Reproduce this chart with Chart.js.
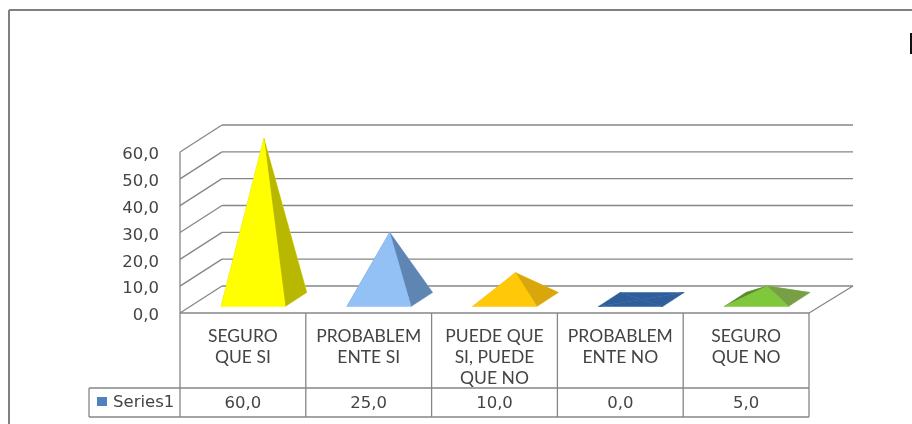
<!DOCTYPE html>
<html>
<head>
<meta charset="utf-8">
<title>Series1</title>
<script src="https://cdn.jsdelivr.net/npm/chart.js@4"></script>
<style>
  html, body { margin: 0; padding: 0; background: #fff; overflow: hidden; }
  canvas { display: block; }
</style>
</head>
<body>
<canvas id="pyramidChart" width="912" height="424"></canvas>
<script>
// Chart data
const categories = [
  ['SEGURO', 'QUE SI'],
  ['PROBABLEM', 'ENTE SI'],
  ['PUEDE QUE', 'SI, PUEDE', 'QUE NO'],
  ['PROBABLEM', 'ENTE NO'],
  ['SEGURO', 'QUE NO']
];
const seriesName = 'Series1';
const seriesValues = [60, 25, 10, 0, 5];

// Face colours per pyramid
const frontColors = ['#ffff00', '#93c0f5', '#ffc90a', '#2f5f9b', '#7fc83c'];
const rightColors = ['#b8b800', '#5f86b3', '#d9a60c', '#2f5f9b', '#77a045'];
const leftColors = ['#d0d000', '#6f97c4', '#d9a60c', '#2f5f9b', '#5c8a30'];

const LINE_COLOR = '#868686';
const TEXT_COLOR = '#444444';
const NUM_FONT = '16.5px "DejaVu Sans"';

// Depth of the floor box and of each pyramid base, in px
const WALL_DX = 42;
const WALL_DY = 27;
const BASE_DX = 21.5;
const BASE_DY = 14;

function fmt(v) { return Number(v).toFixed(1).replace('.', ','); }

function line(ctx, x1, y1, x2, y2) {
  ctx.beginPath();
  ctx.moveTo(x1, y1);
  ctx.lineTo(x2, y2);
  ctx.stroke();
}

function tri(ctx, a, b, c, color) {
  ctx.fillStyle = color;
  ctx.strokeStyle = color;
  ctx.lineWidth = 0.5;
  ctx.beginPath();
  ctx.moveTo(a[0], a[1]);
  ctx.lineTo(b[0], b[1]);
  ctx.lineTo(c[0], c[1]);
  ctx.closePath();
  ctx.fill();
  ctx.stroke(); // closes the hairline seams between faces
}

// Back wall, side wall and floor edges
const wallsPlugin = {
  id: 'walls',
  beforeDatasetsDraw(chart) {
    const { ctx, chartArea: area, scales: { y } } = chart;
    ctx.save();
    ctx.strokeStyle = LINE_COLOR;
    ctx.lineWidth = 1.3;
    y.ticks.forEach(t => {
      const py = y.getPixelForValue(t.value);
      line(ctx, area.left, py, area.left + WALL_DX, py - WALL_DY);
      line(ctx, area.left + WALL_DX, py - WALL_DY, area.right + WALL_DX + 2, py - WALL_DY);
    });
    line(ctx, area.left, area.top, area.left, area.bottom);
    line(ctx, area.right, area.bottom, area.right + WALL_DX + 2, area.bottom - WALL_DY);
    ctx.restore();
  }
};

// Each bar element becomes a pyramid standing in the middle of the floor
const pyramidPlugin = {
  id: 'pyramids',
  afterDatasetsDraw(chart) {
    const { ctx } = chart;
    const bars = chart.getDatasetMeta(0).data;
    ctx.save();
    bars.forEach((bar, i) => {
      const half = bar.width / 2;
      const h = bar.base - bar.y;
      const cx = bar.x + WALL_DX / 2;
      const cy = bar.base - WALL_DY / 2;
      const fl = [cx - BASE_DX / 2 - half, cy + BASE_DY / 2];
      const fr = [cx - BASE_DX / 2 + half, cy + BASE_DY / 2];
      const bl = [cx + BASE_DX / 2 - half, cy - BASE_DY / 2];
      const br = [cx + BASE_DX / 2 + half, cy - BASE_DY / 2];
      const apex = [cx, cy - h];
      tri(ctx, bl, br, apex, frontColors[i]);
      tri(ctx, fl, bl, apex, leftColors[i]);
      tri(ctx, fr, br, apex, rightColors[i]);
      tri(ctx, fl, fr, apex, frontColors[i]);
    });
    ctx.restore();
  }
};

// Data table under the plot, plus the outer frame
const tablePlugin = {
  id: 'dataTable',
  afterDraw(chart) {
    const { ctx, chartArea: area, scales: { x } } = chart;
    const rowTop = area.bottom + 75;
    const rowBottom = area.bottom + 104;
    const keyLeft = 89;
    const cellW = x.width / categories.length;

    ctx.save();
    ctx.strokeStyle = LINE_COLOR;
    ctx.lineWidth = 1.3;
    line(ctx, area.left, area.bottom, area.right, area.bottom);
    line(ctx, keyLeft, rowTop, area.right, rowTop);
    line(ctx, keyLeft, rowBottom, area.right, rowBottom);
    line(ctx, keyLeft, rowTop, keyLeft, rowBottom);
    for (let i = 0; i <= categories.length; i++) {
      const px = area.left + cellW * i;
      line(ctx, px, area.bottom, px, rowBottom);
    }

    ctx.fillStyle = '#4f81bd';
    ctx.fillRect(keyLeft + 8, rowTop + 9, 10, 9);
    ctx.fillStyle = TEXT_COLOR;
    ctx.textBaseline = 'middle';
    ctx.font = NUM_FONT;
    ctx.textAlign = 'left';
    ctx.fillText(seriesName, keyLeft + 24, rowTop + 15);
    ctx.textAlign = 'center';
    seriesValues.forEach((v, i) => {
      ctx.fillText(fmt(v), x.getPixelForTick(i), rowTop + 15.5);
    });

    // outer frame, only the top and left edges are in view
    ctx.strokeStyle = '#808080';
    ctx.lineWidth = 2;
    line(ctx, 9, 10, 912, 10);
    line(ctx, 9, 10, 9, 424);
    // clipped edge of the title at the right border
    ctx.fillStyle = '#111';
    ctx.fillRect(910, 33, 2, 21);
    ctx.restore();
  }
};

new Chart(document.getElementById('pyramidChart'), {
  type: 'bar',
  data: {
    labels: categories,
    datasets: [{
      label: seriesName,
      data: seriesValues,
      backgroundColor: 'rgba(0,0,0,0)',
      barPercentage: 1,
      categoryPercentage: 0.51
    }]
  },
  plugins: [wallsPlugin, pyramidPlugin, tablePlugin],
  options: {
    responsive: false,
    animation: false,
    layout: { padding: { top: 152, right: 103, bottom: 0, left: 0 } },
    plugins: { legend: { display: false }, tooltip: { enabled: false } },
    scales: {
      x: {
        afterFit(s) { s.height = 111; },
        border: { display: false },
        grid: { display: false, drawTicks: false },
        ticks: {
          padding: 13,
          maxRotation: 0,
          autoSkip: false,
          color: TEXT_COLOR,
          font: { family: 'Lato', size: 17.5, lineHeight: 1.2 }
        }
      },
      y: {
        min: 0,
        max: 60,
        afterFit(s) { s.width = 180; },
        border: { display: false },
        grid: { display: false, drawTicks: false },
        ticks: {
          stepSize: 10,
          padding: 21,
          labelOffset: 3,
          color: TEXT_COLOR,
          font: { family: 'DejaVu Sans', size: 16.5 },
          callback: v => fmt(v)
        }
      }
    }
  }
});
</script>
</body>
</html>
